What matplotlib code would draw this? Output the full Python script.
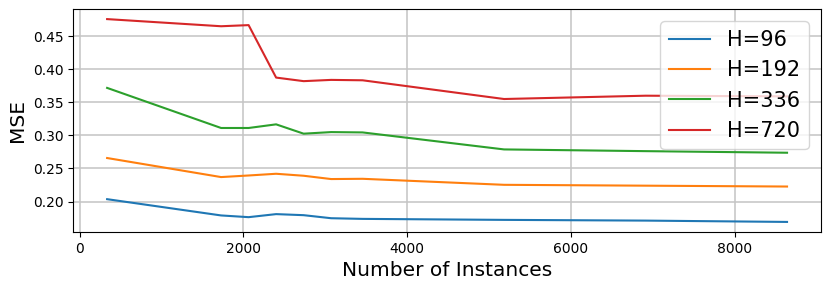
import numpy as np
import matplotlib.pyplot as plt

# number of training instances
instances = [336, 1728, 2064, 2400, 2736, 3072, 3456, 5184, 6912, 8640]

# MSE per prediction horizon
mse_96 = [0.2036, 0.179, 0.1764, 0.181, 0.1794, 0.1748, 0.1738, 0.1723, 0.1712, 0.1692]
mse_192 = [0.2658, 0.237, 0.2394, 0.242, 0.239, 0.234, 0.2344, 0.2253, 0.2240, 0.2227]
mse_336 = [0.3718, 0.3112, 0.3112, 0.3167, 0.3026, 0.305, 0.3045, 0.2788, 0.2762, 0.2738]
mse_720 = [0.4758, 0.465, 0.4667, 0.3874, 0.382, 0.3839, 0.3833, 0.355, 0.3600, 0.3590]

series = [(mse_96, 'H=96'), (mse_192, 'H=192'), (mse_336, 'H=336'), (mse_720, 'H=720')]

fig, ax = plt.subplots(figsize=(8.31, 2.89), dpi=100)
fig.subplots_adjust(left=0.088, right=0.988, top=0.969, bottom=0.197)

for vals, lab in series:
    ax.plot(instances, vals, linewidth=1.5, label=lab)

ax.grid(True, linewidth=1.1, color='#c4c4c4')
ax.tick_params(labelsize=10)
ax.set_xlabel("Number of Instances", fontsize=14.5)
ax.set_ylabel("MSE", fontsize=14.5)
ax.legend(loc='upper right', fontsize=15, borderaxespad=0.6)

plt.savefig("out.png", dpi=100)
